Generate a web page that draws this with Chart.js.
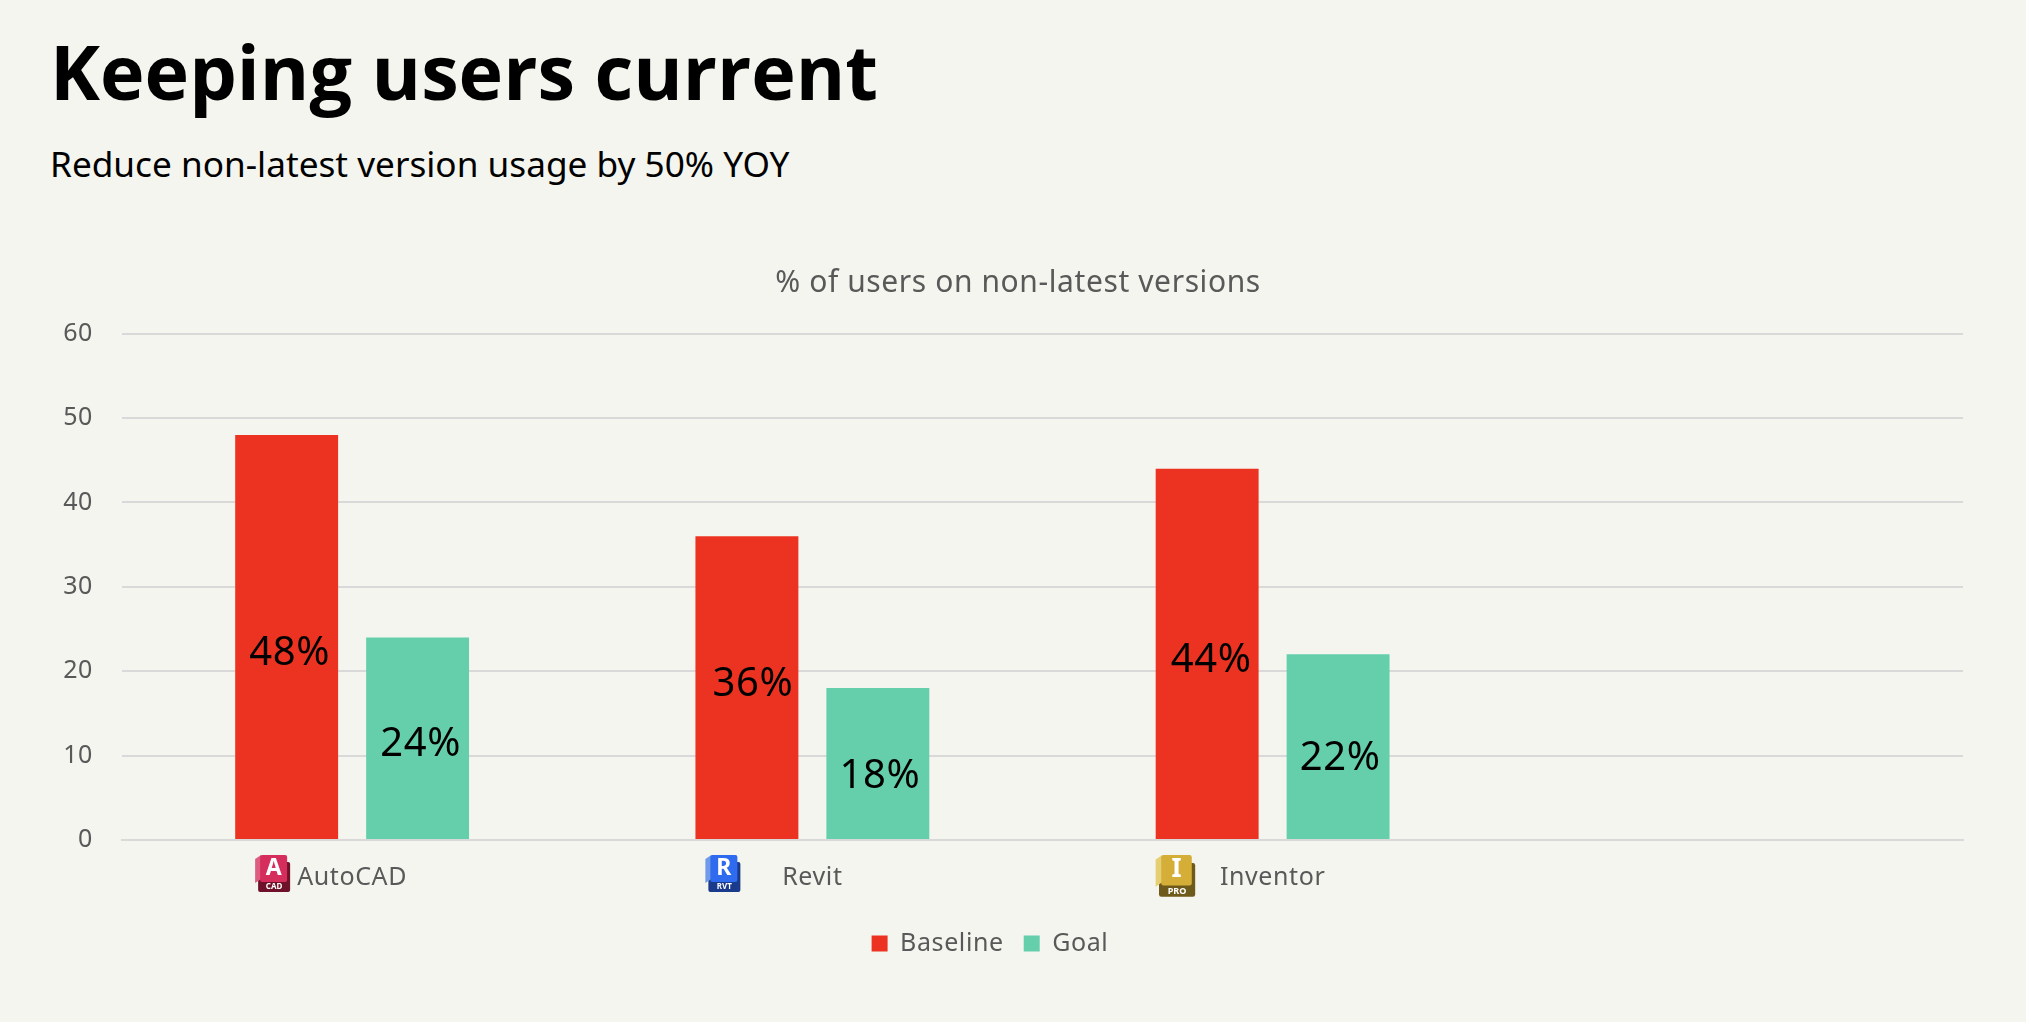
<!DOCTYPE html>
<html>
<head>
<meta charset="utf-8">
<title>Keeping users current</title>
<script src="https://cdn.jsdelivr.net/npm/chart.js@4/dist/chart.umd.min.js"></script>
<style>
  html, body { margin: 0; padding: 0; background: #F4F5EF; }
  #page { position: relative; width: 2026px; height: 1022px; overflow: hidden; }
  h1 { position: absolute; left: 50px; top: 19px; margin: 0; font: 700 75.4px "Open Sans", sans-serif; color: #000; white-space: nowrap; }
  h2 { position: absolute; left: 50px; top: 139px; margin: 0; font: 400 35.2px "Noto Sans", sans-serif; color: #000; white-space: nowrap; }
  canvas { position: absolute; left: 0; top: 0; }
</style>
</head>
<body>
<div id="page">
  <h1>Keeping users current</h1>
  <h2>Reduce non-latest version usage by 50% YOY</h2>
  <canvas id="usuarios" width="2026" height="1022"></canvas>
</div>
<script>
const categories = ['AutoCAD', 'Revit', 'Inventor', ''];
const baseline = [48, 36, 44, null];
const goal = [24, 18, 22, null];
const yTicks = [0, 10, 20, 30, 40, 50, 60];

const TICK_COLOR = '#595959';
const FONT = '"Noto Sans", sans-serif';

// Product badges next to the category names, one per category
const badges = [
  { dx: -97, scale: 1, light: '#DE5C80', face: '#D62E5C', dark: '#6E1129', letter: 'A', tag: 'CAD' },
  { dx: -107, scale: 1, light: '#6F9BE8', face: '#2F6BEF', dark: '#1A3A8C', letter: 'R', tag: 'RVT' },
  { dx: -117, scale: 1.13, light: '#E6CF72', face: '#D4AE36', dark: '#6E5A1A', letter: 'I', tag: 'PRO' }
];

const drawBadge = (ctx, x, y, b) => {
  ctx.save();
  ctx.translate(x, y);
  ctx.scale(b.scale, b.scale);
  ctx.letterSpacing = '0px';
  // dark back and tag
  ctx.fillStyle = b.dark;
  ctx.beginPath();
  ctx.roundRect(3, 7, 32, 30, 2);
  ctx.fill();
  // folded left edge
  ctx.fillStyle = b.light;
  ctx.beginPath();
  ctx.moveTo(0, 4);
  ctx.lineTo(6, 0);
  ctx.lineTo(6, 24);
  ctx.lineTo(0, 28);
  ctx.closePath();
  ctx.fill();
  // front face
  ctx.fillStyle = b.face;
  ctx.beginPath();
  ctx.roundRect(5, 0, 27, 27, 2);
  ctx.fill();
  ctx.fillStyle = '#fff';
  ctx.textAlign = 'center';
  ctx.textBaseline = 'middle';
  ctx.font = '700 23px "Noto Sans", sans-serif';
  ctx.fillText(b.letter, 18.5, 13);
  ctx.font = '700 8px "Noto Sans", sans-serif';
  ctx.fillText(b.tag, 19, 32);
  ctx.restore();
};

const badgePlugin = {
  id: 'badges',
  afterDraw(chart) {
    const x = chart.scales.x;
    badges.forEach((b, i) => {
      drawBadge(chart.ctx, x.getPixelForTick(i) + b.dx, x.top + 15, b);
    });
  }
};

// Value labels inside the bars, nudged from the bar's middle
const labelNudgeX = [[3, 6, 4], [3, 2, 2]];
const labelNudgeY = [[17, -3, 7], [6, 13, 12]];

const valueLabels = {
  id: 'valueLabels',
  afterDatasetsDraw(chart) {
    const ctx = chart.ctx;
    ctx.save();
    ctx.font = '40px ' + FONT;
    ctx.fillStyle = '#000';
    ctx.textAlign = 'center';
    ctx.textBaseline = 'middle';
    chart.data.datasets.forEach((ds, d) => {
      chart.getDatasetMeta(d).data.forEach((bar, i) => {
        if (ds.data[i] == null) return;
        ctx.fillText(ds.data[i] + '%', bar.x + labelNudgeX[d][i], (bar.y + bar.base) / 2 + labelNudgeY[d][i]);
      });
    });
    ctx.restore();
  }
};

// Title and legend are not centred on the same line, so move each one sideways.
// The wider tracking has to be set before layout so the legend measures with it.
const textTweaks = {
  id: 'textTweaks',
  beforeLayout(chart) {
    chart.ctx.letterSpacing = '0.6px';
  },
  afterLayout(chart) {
    chart.titleBlock.left += 20;
    chart.titleBlock.right += 20;
    chart.legend.left -= 8;
    chart.legend.right -= 8;
  },
  beforeDraw(chart) {
    chart.ctx.letterSpacing = '0.6px';
  }
};

new Chart(document.getElementById('usuarios').getContext('2d'), {
  type: 'bar',
  data: {
    labels: categories,
    datasets: [
      { label: 'Baseline', data: baseline, backgroundColor: '#EC3322' },
      { label: 'Goal', data: goal, backgroundColor: '#65CFAC' }
    ]
  },
  options: {
    responsive: false,
    animation: false,
    categoryPercentage: 0.569,
    barPercentage: 0.786,
    layout: { padding: { left: 33, right: 63, top: 265, bottom: 56 } },
    scales: {
      x: {
        grid: { display: false },
        border: { color: '#D9D9D9', width: 2 },
        ticks: { color: TICK_COLOR, font: { family: FONT, size: 25 }, padding: 15, maxRotation: 0 },
        afterFit(scale) { scale.height = 71; }
      },
      y: {
        min: 0,
        max: 60,
        afterBuildTicks(scale) { scale.ticks = yTicks.map((value) => ({ value })); },
        grid: { color: '#D9D9D9', lineWidth: 2, drawTicks: false },
        border: { display: false },
        ticks: { color: TICK_COLOR, font: { family: FONT, size: 25 }, padding: 29 },
        afterFit(scale) { scale.width = 89; }
      }
    },
    plugins: {
      title: {
        display: true,
        text: '% of users on non-latest versions',
        color: TICK_COLOR,
        font: { family: FONT, size: 30, weight: 'normal' },
        padding: { top: 0, bottom: 32.6 }
      },
      legend: {
        position: 'bottom',
        labels: { color: TICK_COLOR, font: { family: FONT, size: 25 }, boxWidth: 16, boxHeight: 16, padding: 20 }
      },
      tooltip: { enabled: false }
    }
  },
  plugins: [textTweaks, badgePlugin, valueLabels]
});
</script>
</body>
</html>
